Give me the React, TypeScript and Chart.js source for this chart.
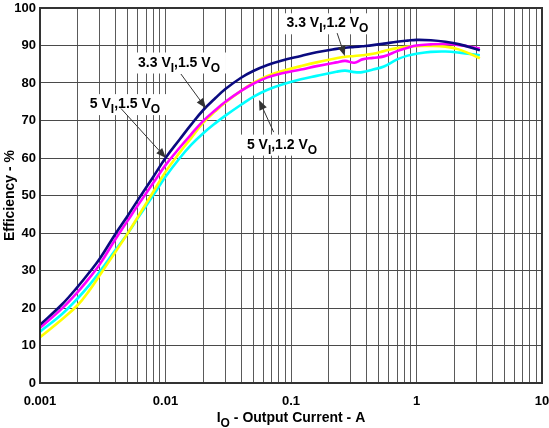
import React, { useEffect, useRef } from 'react';
import { Chart, registerables } from 'chart.js';

Chart.register(...registerables);

const FONT = "'Liberation Sans', Arial, Helvetica, sans-serif";

// Output current (A)
const currents = [0.001, 0.0015, 0.002, 0.0025, 0.003, 0.004, 0.005, 0.006, 0.008, 0.01, 0.013, 0.016, 0.02, 0.025, 0.03, 0.04, 0.05, 0.065, 0.085, 0.12, 0.16, 0.23, 0.27, 0.32, 0.37, 0.45, 0.55, 0.7, 0.85, 1, 1.3, 1.7, 2.2, 3.2];
// Efficiency (%)
const eff33Vin15Vout = [15.5, 21, 25.7, 29.7, 33.2, 39.8, 44.6, 48.7, 55, 60, 65, 68.9, 72.8, 76, 78.4, 81.4, 83.2, 84.8, 86, 87.2, 88.2, 89.1, 89.4, 89.6, 89.8, 90.1, 90.5, 91, 91.3, 91.5, 91.4, 91.0, 90.3, 88.7];
const eff5Vin15Vout = [14.7, 19.9, 24.3, 28.2, 31.7, 38.4, 43.3, 47.3, 53.4, 58.1, 62.8, 66.3, 69.9, 72.8, 75, 77.9, 79.8, 81.5, 82.6, 83.6, 84.5, 85.5, 85.9, 85.4, 86.3, 86.7, 87.1, 88.5, 89.4, 90, 90.3, 90.4, 90.1, 89.2];
const eff33Vin12Vout = [12.2, 17, 20.8, 24.9, 28.8, 35, 39.9, 44.2, 51, 56.3, 61.5, 65.3, 69.4, 72.5, 74.8, 77.9, 80, 81.9, 83.2, 84.5, 85.5, 86.6, 87, 87.2, 87.4, 87.8, 88.5, 89.3, 89.7, 89.8, 89.9, 89.7, 88.9, 86.6];
const eff5Vin12Vout = [13.7, 18.4, 22.6, 26.3, 29.7, 35.5, 39.9, 43.9, 50.1, 55, 60, 63.5, 66.6, 69.3, 71.3, 74.2, 76.3, 78.2, 79.6, 81, 81.9, 83, 83.3, 82.9, 82.9, 83.6, 84.4, 86.3, 87.3, 87.8, 88.3, 88.4, 88.1, 87.4];

const xDecades = [0.001, 0.01, 0.1, 1, 10];
const xTickLabels = ['0.001', '0.01', '0.1', '1', '10'];
const xMultipliers = [1, 2, 3, 4, 5, 6, 7, 8, 9];

const yTitle = 'Efficiency - %';
const xTitleParts: [string, boolean][] = [['I', false], ['O', true], [' - Output Current - A', false]];

// annotation labels (text parts, subscript flag)
const labelParts: [string, boolean][][] = [
  [['3.3 V', false], ['I', true], [',1.5 V', false], ['O', true]],
  [['5 V', false], ['I', true], [',1.5 V', false], ['O', true]],
  [['3.3 V', false], ['I', true], [',1.2 V', false], ['O', true]],
  [['5 V', false], ['I', true], [',1.2 V', false], ['O', true]],
];
// label centre (current, efficiency at baseline)
const labelAnchors = [[0.01281, 84.4], [0.004755, 73.3], [0.1953, 94.85], [0.0848, 62.5]];
const arrowStarts = [[0.01327, 82.4], [0.00442, 73.2], [0.2332, 93.3], [0.0728, 66.9]];
const arrowTips = [[0.02098, 73.3], [0.01008, 60], [0.2683, 87.2], [0.05556, 75.5]];

const gridValues: number[] = [];
xDecades.forEach((d, i) => {
  if (i === xDecades.length - 1) { gridValues.push(d); return; }
  xMultipliers.forEach((m) => gridValues.push(+(d * m).toPrecision(6)));
});

function partsWidth(ctx: CanvasRenderingContext2D, parts: [string, boolean][], main: number, sub: number) {
  let w = 0;
  parts.forEach(([t, s]) => {
    ctx.font = `bold ${s ? sub : main}px ${FONT}`;
    w += ctx.measureText(t).width;
  });
  return w;
}

function drawParts(ctx: CanvasRenderingContext2D, parts: [string, boolean][], cx: number, by: number, main: number, sub: number, subOff: number) {
  const w = partsWidth(ctx, parts, main, sub);
  let x = cx - w / 2;
  ctx.textAlign = 'left';
  ctx.textBaseline = 'alphabetic';
  ctx.fillStyle = '#000';
  parts.forEach(([t, s]) => {
    ctx.font = `bold ${s ? sub : main}px ${FONT}`;
    ctx.fillText(t, x, by + (s ? subOff : 0));
    x += ctx.measureText(t).width;
  });
}

const overlay = {
  id: 'overlay',
  beforeDatasetsDraw(chart: any) {
    const ctx = chart.ctx as CanvasRenderingContext2D;
    const xs = chart.scales.x, ys = chart.scales.y;
    ctx.save();
    labelParts.forEach((parts, i) => {
      const w = partsWidth(ctx, parts, 14, 12);
      const cx = xs.getPixelForValue(labelAnchors[i][0]);
      const by = ys.getPixelForValue(labelAnchors[i][1]);
      ctx.fillStyle = '#fff';
      ctx.fillRect(cx - w / 2 - 6, by - 14, w + 12, 21);
    });
    ctx.restore();
  },
  afterDatasetsDraw(chart: any) {
    const ctx = chart.ctx as CanvasRenderingContext2D;
    const xs = chart.scales.x, ys = chart.scales.y;
    const a = chart.chartArea;
    ctx.save();
    // frame
    ctx.strokeStyle = '#333';
    ctx.lineWidth = 2;
    ctx.strokeRect(a.left, a.top, a.right - a.left, a.bottom - a.top);
    // arrows
    ctx.strokeStyle = '#333';
    ctx.fillStyle = '#333';
    ctx.lineWidth = 1;
    arrowStarts.forEach((s, i) => {
      const sx = xs.getPixelForValue(s[0]);
      const sy = ys.getPixelForValue(s[1]);
      const tx = xs.getPixelForValue(arrowTips[i][0]);
      const ty = ys.getPixelForValue(arrowTips[i][1]);
      const ang = Math.atan2(ty - sy, tx - sx);
      const c = Math.cos(ang), sn = Math.sin(ang);
      ctx.beginPath();
      ctx.moveTo(sx, sy);
      ctx.lineTo(tx - 7 * c, ty - 7 * sn);
      ctx.stroke();
      ctx.beginPath();
      ctx.moveTo(tx, ty);
      ctx.lineTo(tx - 10 * c + 4 * sn, ty - 10 * sn - 4 * c);
      ctx.lineTo(tx - 10 * c - 4 * sn, ty - 10 * sn + 4 * c);
      ctx.closePath();
      ctx.fill();
    });
    // label texts
    labelParts.forEach((parts, i) => {
      const cx = xs.getPixelForValue(labelAnchors[i][0]);
      const by = ys.getPixelForValue(labelAnchors[i][1]);
      drawParts(ctx, parts, cx, by, 14, 12, 5);
    });
    // x-axis title
    drawParts(ctx, xTitleParts, (a.left + a.right) / 2, chart.height - 6, 14, 12, 5);
    ctx.restore();
  },
};

export default function App() {
  const ref = useRef<HTMLCanvasElement>(null);
  useEffect(() => {
    const series = [
      { data: eff33Vin15Vout, color: '#0a0a80' },
      { data: eff5Vin15Vout, color: '#ff00ff' },
      { data: eff33Vin12Vout, color: '#ffff00' },
      { data: eff5Vin12Vout, color: '#00ffff' },
    ];
    const chart = new Chart(ref.current!, {
      type: 'line',
      data: {
        datasets: series.map((s) => ({
          data: currents.map((c, i) => ({ x: c, y: s.data[i] })),
          borderColor: s.color,
          backgroundColor: s.color,
          borderWidth: 2.6,
          pointRadius: 0,
          fill: false,
          tension: 0.4,
        })),
      },
      options: {
        responsive: false,
        devicePixelRatio: 1,
        animation: false,
        events: [],
        layout: { padding: { top: 8, right: 7, left: 0, bottom: 0 } },
        plugins: { legend: { display: false }, tooltip: { enabled: false }, title: { display: false } },
        scales: {
          x: {
            type: 'logarithmic',
            min: 0.001,
            max: 10,
            afterBuildTicks: (scale: any) => {
              scale.ticks = gridValues.map((v) => ({ value: v }));
            },
            afterFit: (scale: any) => {
              scale.height = 45;
              scale.paddingLeft = 0;
              scale.paddingRight = 0;
            },
            ticks: {
              autoSkip: false,
              maxRotation: 0,
              minRotation: 0,
              padding: 11,
              color: '#000',
              font: { family: FONT, size: 13, weight: 'bold' },
              callback: (v: any) => {
                const idx = xDecades.findIndex((d) => Math.abs(Math.log10(d) - Math.log10(Number(v))) < 1e-6);
                return idx >= 0 ? xTickLabels[idx] : '';
              },
            },
            grid: { color: '#5a5a5a', lineWidth: 1, drawTicks: false },
            border: { display: true, color: '#333', width: 2 },
          },
          y: {
            min: 0,
            max: 100,
            afterFit: (scale: any) => {
              scale.width = 40;
              scale.paddingTop = 0;
              scale.paddingBottom = 0;
            },
            ticks: {
              stepSize: 10,
              padding: 4,
              color: '#000',
              font: { family: FONT, size: 13, weight: 'bold' },
            },
            grid: { color: '#4a4a4a', lineWidth: 1, drawTicks: false },
            border: { display: true, color: '#333', width: 2 },
            title: {
              display: true,
              text: yTitle,
              color: '#000',
              font: { family: FONT, size: 14, weight: 'bold' },
              padding: { top: 2, bottom: 0 },
            },
          },
        },
      } as any,
      plugins: [overlay],
    });
    return () => chart.destroy();
  }, []);
  return (
    <div style={{ position: 'absolute', left: 0, top: 0, width: 549, height: 428, background: '#fff' }}>
      <canvas ref={ref} width={549} height={428} style={{ display: 'block' }} />
    </div>
  );
}
